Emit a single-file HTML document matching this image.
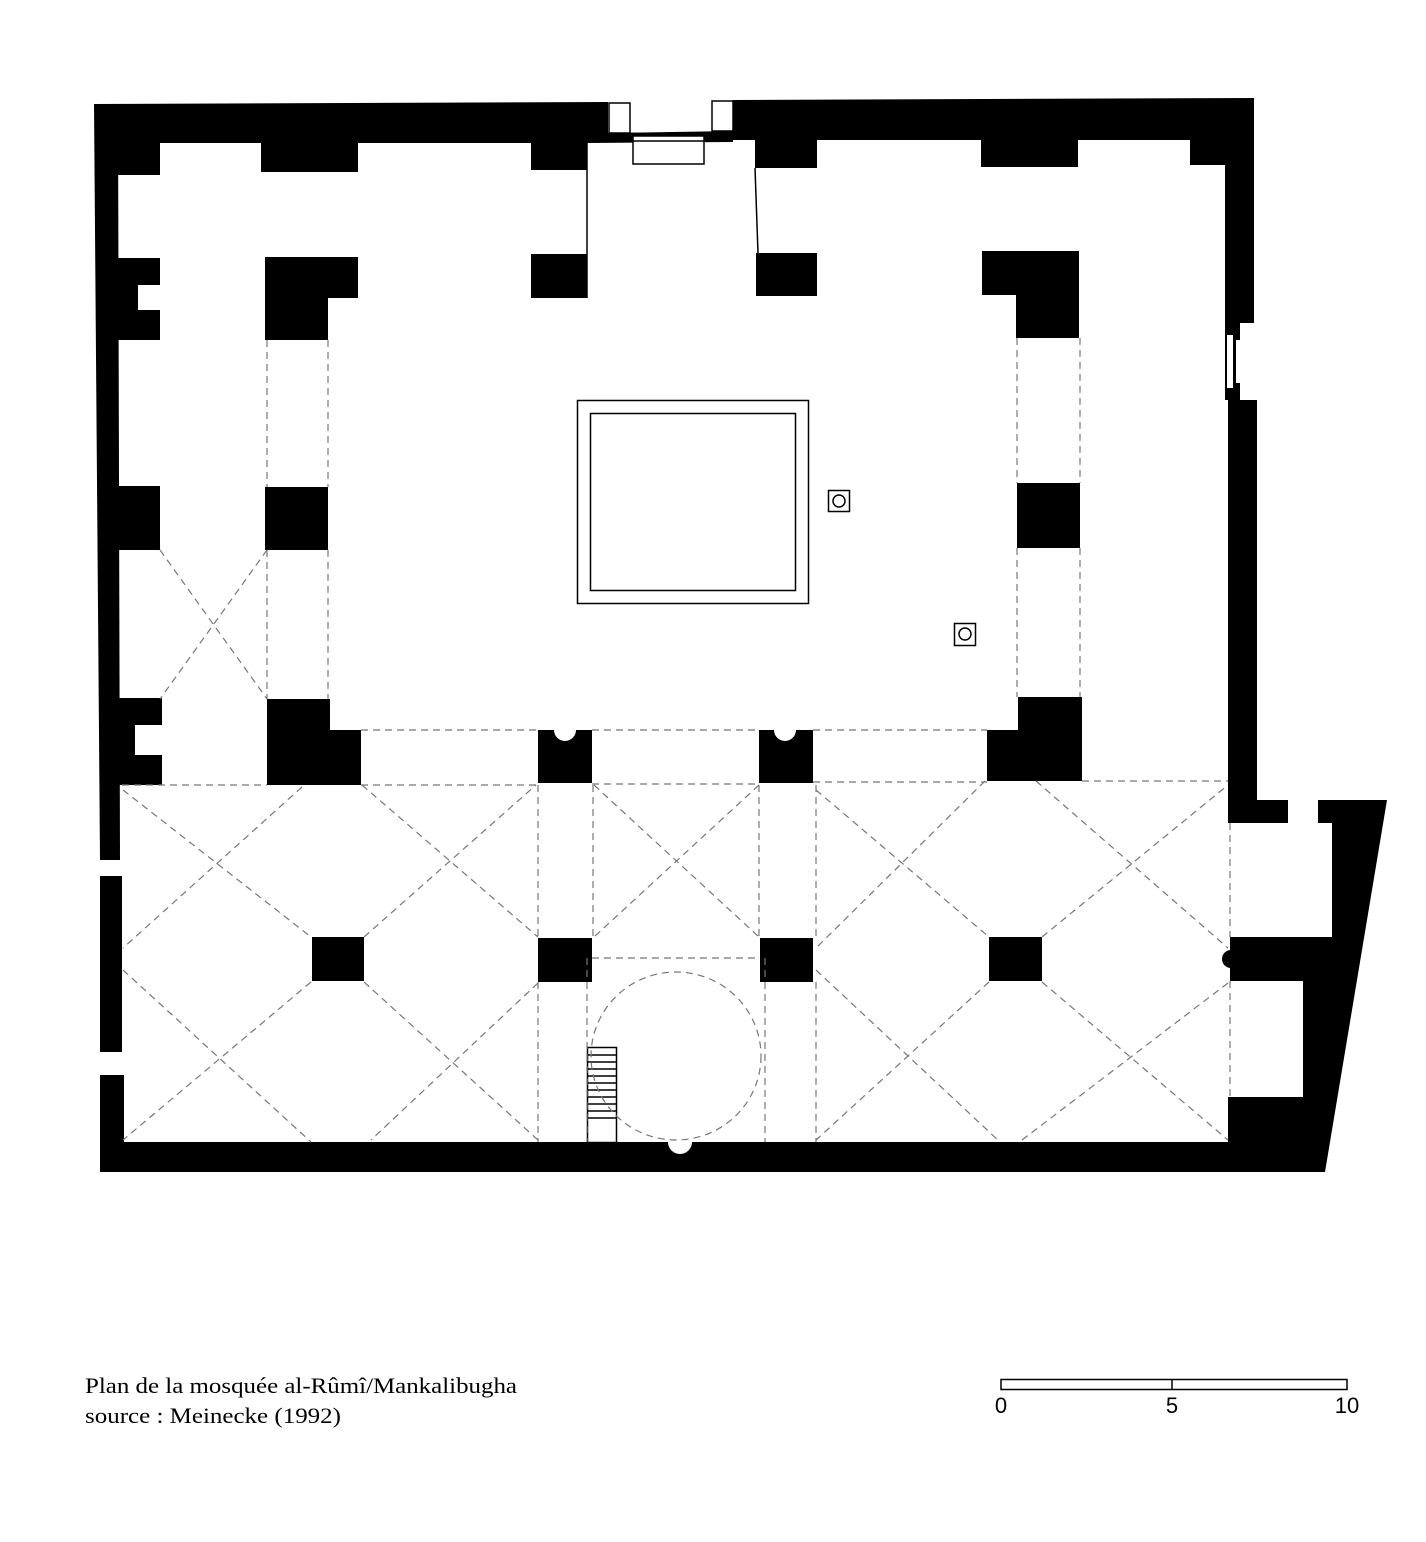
<!DOCTYPE html>
<html><head><meta charset="utf-8"><style>
html,body{margin:0;padding:0;background:#fff;}
svg{display:block}
</style></head><body>
<svg width="1426" height="1542" viewBox="0 0 1426 1542" xmlns="http://www.w3.org/2000/svg">
<rect width="1426" height="1542" fill="#fff"/>
<g fill="#000">
<polygon points="94,104 608,102 608,133 733,131 733,100 1254,98 1254,323 1240,323 1240,400 1257,400 1257,800 1288,800 1288,823 1228,823 1228,400 1225,400 1225,140 733,140 733,142 587,143 587,143 118,143"/>
<rect x="608" y="133" width="125" height="9"/>
<polygon points="94,104 118,104 120,860 100,860"/>
<rect x="100" y="876" width="22" height="176"/>
<rect x="100" y="1075" width="24" height="80"/>
<rect x="100" y="1142" width="1130" height="30"/>
<polygon points="1318,800 1387,800 1325,1172 1228,1172 1228,1097 1303,1097 1303,981 1230,981 1230,937 1332,937 1332,823 1318,823"/>
<circle cx="1231" cy="959" r="9"/>
<rect x="118" y="140" width="42" height="35"/>
<rect x="261" y="140" width="97" height="32"/>
<rect x="531" y="140" width="56" height="30"/>
<rect x="755" y="138" width="62" height="30"/>
<rect x="981" y="138" width="97" height="29"/>
<rect x="1190" y="138" width="36" height="27"/>
<rect x="116" y="258" width="44" height="82"/>
<rect x="116" y="486" width="44" height="64"/>
<rect x="116" y="698" width="46" height="87"/>
<rect x="265" y="257" width="93" height="41"/>
<rect x="265" y="257" width="63" height="83"/>
<rect x="531" y="254" width="56" height="44"/>
<rect x="756" y="253" width="61" height="43"/>
<rect x="982" y="251" width="97" height="44"/>
<rect x="1016" y="251" width="63" height="87"/>
<rect x="265" y="487" width="63" height="63"/>
<rect x="1017" y="483" width="63" height="65"/>
<rect x="267" y="699" width="63" height="86"/>
<rect x="267" y="730" width="94" height="55"/>
<rect x="538" y="730" width="54" height="53"/>
<rect x="759" y="730" width="54" height="53"/>
<rect x="1018" y="697" width="64" height="84"/>
<rect x="987" y="730" width="95" height="51"/>
<rect x="312" y="937" width="52" height="44"/>
<rect x="538" y="938" width="54" height="44"/>
<rect x="760" y="938" width="53" height="44"/>
<rect x="989" y="937" width="53" height="44"/>
</g>
<g fill="#fff">
<rect x="138" y="285" width="24" height="25"/>
<rect x="135" y="725" width="29" height="30"/>
<circle cx="565" cy="730" r="11"/>
<circle cx="785" cy="730" r="11"/>
<circle cx="680" cy="1142" r="12"/>
<rect x="609" y="103" width="21" height="30" stroke="#000" stroke-width="1.5"/>
<rect x="712" y="101" width="21" height="30" stroke="#000" stroke-width="1.5"/>
<rect x="633" y="136" width="71" height="28" stroke="#000" stroke-width="1.5"/>
<rect x="1227" y="335" width="6" height="53"/>
<rect x="1236" y="340" width="4" height="43"/>
</g>
<g stroke="#000" stroke-width="1.5" fill="none">
<line x1="633" y1="141" x2="704" y2="141"/>
<line x1="587" y1="143" x2="587" y2="298"/>
<line x1="755" y1="168" x2="758" y2="253"/>
<rect x="577.5" y="400.5" width="231" height="203"/>
<rect x="590.5" y="413.5" width="205" height="177"/>
<rect x="828.5" y="490.5" width="21" height="21"/>
<circle cx="839" cy="501" r="6"/>
<rect x="954.5" y="623.5" width="21" height="22"/>
<circle cx="965" cy="634" r="6"/>
<rect x="587.5" y="1047.5" width="29" height="95"/>
<path d="M588 1055h28M588 1062h28M588 1069h28M588 1076h28M588 1083h28M588 1090h28M588 1097h28M588 1104h28M588 1111h28M588 1118h28"/>
</g>
<g stroke="#777" stroke-width="1.2" fill="none" stroke-dasharray="7,5">
<path d="M267 340V487M328 340V487M267 550V699M328 550V699"/>
<path d="M1017 338V483M1080 338V483M1017 548V697M1080 548V697"/>
<path d="M160 550L267 699M267 550L160 699"/>
<path d="M361 730H538M592 730H759M813 730H987"/>
<path d="M122 785H267M361 785H538M592 784H759M813 782H987M1082 781H1228"/>
<path d="M123 790L311 937M302 787L123 948M362 785L538 937M364 937L536 785"/>
<path d="M123 970L311 1142M311 982L123 1140M364 982L538 1140M538 983L371 1140"/>
<path d="M594 785L759 937M759 785L594 937"/>
<path d="M538 785V937M593 785V937M759 785V937M816 785V937"/>
<path d="M538 982V1142M587 958V1142M765 958V1142M816 982V1142M592 958H759"/>
<ellipse cx="676" cy="1056" rx="85" ry="84"/>
<path d="M816 790L989 937M985 781L816 948M1042 937L1228 785M1036 781L1228 948"/>
<path d="M816 970L1000 1142M989 982L816 1140M1042 982L1228 1140M1228 983L1022 1140"/>
<path d="M1230 823V937M1230 981V1097"/>
</g>
<g font-family="Liberation Serif, serif" font-size="22" fill="#000">
<text x="85" y="1393" textLength="432" lengthAdjust="spacingAndGlyphs">Plan de la mosquée al-Rûmî/Mankalibugha</text>
<text x="85" y="1423" textLength="256" lengthAdjust="spacingAndGlyphs">source : Meinecke (1992)</text>
</g>
<g stroke="#000" stroke-width="1.5" fill="none">
<rect x="1001" y="1379.5" width="346" height="10"/>
<line x1="1172" y1="1379" x2="1172" y2="1390"/>
</g>
<g font-family="Liberation Sans, sans-serif" font-size="22" fill="#000" text-anchor="middle">
<text x="1001" y="1413">0</text>
<text x="1172" y="1413">5</text>
<text x="1347" y="1413">10</text>
</g>
</svg>
</body></html>
